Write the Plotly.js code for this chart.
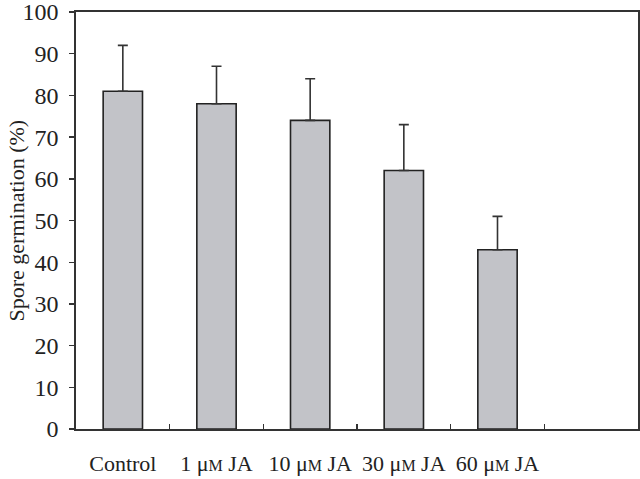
<!DOCTYPE html>
<html>
<head>
<meta charset="utf-8">
<script src="https://cdn.plot.ly/plotly-3.0.1.min.js"></script>
<style>html,body{margin:0;padding:0;background:#fff;}#chart{width:640px;height:479px;}</style>
</head>
<body>
<div id="chart"></div>
<script>
const categories = ["Control", "1 μM JA", "10 μM JA", "30 μM JA", "60 μM JA"];
const germination = [81, 78, 74, 62, 43];
const errorUp = [11, 9, 10, 11, 8];
const emptySlot = " ";
const yTicks = [0, 10, 20, 30, 40, 50, 60, 70, 80, 90, 100];
const yTitle = "Spore germination (%)";

// small-capital M as in the reference typography
const labels = categories.map(c => c.replace("μM", "μ<span style='font-size:16px'>M</span>"));

const font = {family: "Liberation Serif, Times New Roman, serif", size: 22, color: "#222"};
const yTickFont = {family: "Liberation Serif, Times New Roman, serif", size: 24, color: "#222"};

const trace = {
  type: "bar",
  x: labels,
  y: germination,
  width: 0.42,
  marker: {color: "#c2c3c8", line: {color: "#222", width: 1.6}},
  error_y: {type: "data", symmetric: false, array: errorUp, arrayminus: errorUp.map(() => 0),
            color: "#333", thickness: 1.6, width: 5},
  hoverinfo: "none"
};

const layout = {
  width: 640, height: 479,
  margin: {l: 76, r: 2, t: 12, b: 50},
  paper_bgcolor: "#fff", plot_bgcolor: "#fff",
  font: font,
  showlegend: false,
  xaxis: {
    type: "category",
    categoryorder: "array",
    categoryarray: labels.concat([emptySlot]),
    range: [-0.5, 5.5],
    tickson: "boundaries",
    tickangle: 0,
    ticks: "inside", ticklen: 5, tickwidth: 1.4, tickcolor: "#333",
    showline: true, linecolor: "#333", linewidth: 1.6, mirror: true,
    showgrid: false, zeroline: false,
    ticklabelstandoff: 14,
    tickfont: font
  },
  yaxis: {
    range: [0, 100],
    tickvals: yTicks,
    ticks: "outside", ticklen: 5, tickwidth: 1.4, tickcolor: "#333",
    showline: true, linecolor: "#333", linewidth: 1.6, mirror: true,
    showgrid: false, zeroline: false,
    ticklabelstandoff: 6,
    ticklabeloverflow: "allow",
    tickfont: yTickFont
  },
  annotations: [{
    text: yTitle, textangle: -90, font: font,
    xref: "paper", yref: "paper", x: -0.105, y: 0.5,
    xanchor: "center", yanchor: "middle", showarrow: false
  }]
};

Plotly.newPlot("chart", [trace], layout, {staticPlot: true});
</script>
</body>
</html>
